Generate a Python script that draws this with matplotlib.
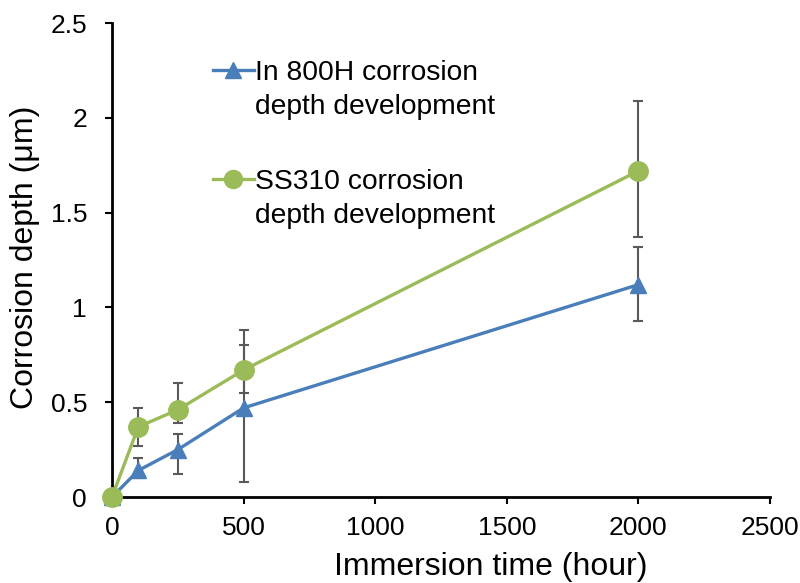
import matplotlib.pyplot as plt
from matplotlib.lines import Line2D

plt.rcParams['font.family'] = ['Liberation Sans', 'DejaVu Sans']

# immersion time (hour)
hours = [0, 100, 250, 500, 2000]

# In 800H corrosion depth (um) with asymmetric error bars
in800h = [0, 0.14, 0.25, 0.47, 1.12]
in800h_up = [0, 0.065, 0.08, 0.33, 0.20]
in800h_lo = [0, 0.04, 0.13, 0.39, 0.19]

# SS310 corrosion depth (um)
ss310 = [0, 0.37, 0.46, 0.67, 1.72]
ss310_up = [0, 0.10, 0.14, 0.21, 0.37]
ss310_lo = [0, 0.10, 0.07, 0.12, 0.35]

labels_in800h = ['In 800H corrosion', 'depth development']
labels_ss310 = ['SS310 corrosion', 'depth development']

blue = '#4A7EBB'
green = '#9BBB59'
err_col = '#595959'

fig = plt.figure(figsize=(8, 5.83), dpi=100)
ax = fig.add_axes([0.14, 0.1475, 0.8225, 0.813])

# error bars first, lines+markers on top
ax.errorbar(hours, in800h, yerr=[in800h_lo, in800h_up], fmt='none',
            ecolor=err_col, elinewidth=1.5, capsize=3.5, capthick=1.5)
ax.errorbar(hours, ss310, yerr=[ss310_lo, ss310_up], fmt='none',
            ecolor=err_col, elinewidth=1.5, capsize=3.5, capthick=1.5)
ax.plot(hours, in800h, color=blue, lw=2.4, marker='^', ms=12, clip_on=False, zorder=5)
ax.plot(hours, ss310, color=green, lw=2.4, marker='o', ms=14, clip_on=False, zorder=6)

ax.set_xlim(0, 2500)
ax.set_ylim(0, 2.5)
ax.set_xticks([0, 500, 1000, 1500, 2000, 2500])
ax.set_yticks([0, 0.5, 1, 1.5, 2, 2.5])
ax.set_yticklabels(['0', '0.5', '1', '1.5', '2', '2.5'])
ax.tick_params(labelsize=19, direction='out', length=5, width=1.5)
ax.tick_params(axis='x', pad=9)
ax.tick_params(axis='y', pad=13)

for s in ['top', 'right']:
    ax.spines[s].set_visible(False)
for s in ['left', 'bottom']:
    ax.spines[s].set_linewidth(2)

ax.set_xlabel('Immersion time (hour)', fontsize=23, va='baseline')
ax.xaxis.set_label_coords(0.576, -0.1646)
ax.set_ylabel('Corrosion depth (μm)', fontsize=23, va='center')
ax.yaxis.set_label_coords(-0.132, 0.506)

# legend: handle sits beside first line of each two-line entry
def two_line_legend(handle, texts, top):
    blank = Line2D([], [], color='none')
    leg = fig.legend([handle, blank], texts, loc='upper left',
                     bbox_to_anchor=(213 / 800, 1 - top / 583), frameon=False,
                     fontsize=20.3, labelspacing=0.3, handlelength=1.45,
                     handletextpad=0.05, borderpad=0, borderaxespad=0)
    return leg

h_blue = Line2D([], [], color=blue, lw=2.4, marker='^', ms=12)
h_green = Line2D([], [], color=green, lw=2.4, marker='o', ms=13)
two_line_legend(h_blue, labels_in800h, 60)
two_line_legend(h_green, labels_ss310, 169)

plt.savefig('out.png', dpi=100)
